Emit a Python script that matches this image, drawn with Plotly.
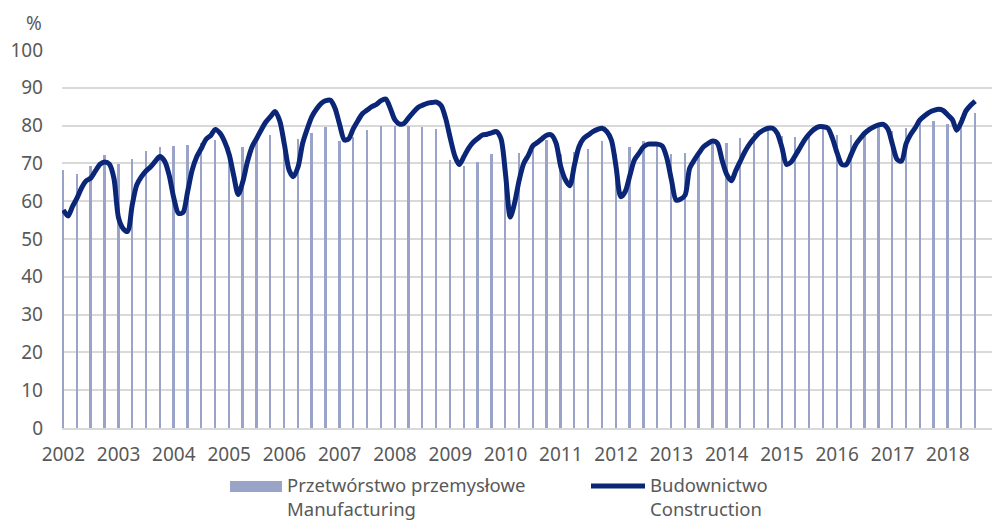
import pandas as pd
import plotly.graph_objects as go

# ---- data ----
construction = [
    57.7, 56.1, 58.5, 60.8, 63.5, 65.4, 66.1, 68.0, 69.8, 70.4, 69.8, 66.1,   # 2002
    55.5, 52.7, 52.0, 59.0, 64.3, 66.5, 68.0, 69.1, 70.6, 71.8, 70.6, 66.9,   # 2003
    60.8, 56.8, 57.0, 62.5, 68.2, 71.8, 74.0, 76.4, 77.4, 79.0, 78.0, 75.8,   # 2004
    72.3, 66.5, 61.8, 65.2, 70.4, 74.4, 76.6, 78.9, 81.0, 82.4, 83.7, 81.2,   # 2005
    74.9, 68.2, 66.5, 69.1, 75.3, 79.2, 82.4, 84.4, 85.9, 86.6, 86.7, 84.6,   # 2006
    80.2, 76.2, 76.5, 79.2, 81.3, 83.2, 84.1, 85.0, 85.6, 86.6, 87.0, 84.6,   # 2007
    81.5, 80.4, 80.6, 82.1, 83.5, 84.8, 85.4, 85.9, 86.1, 86.2, 85.3, 81.9,   # 2008
    76.6, 71.8, 69.7, 71.8, 74.0, 75.6, 76.6, 77.5, 77.7, 78.1, 78.4, 76.6,   # 2009
    67.0, 55.8, 59.4, 65.6, 70.0, 72.2, 74.7, 75.6, 76.6, 77.5, 77.5, 75.3,   # 2010
    69.1, 65.6, 64.1, 69.6, 74.4, 76.6, 77.5, 78.4, 79.0, 79.3, 78.4, 76.2,   # 2011
    69.1, 61.2, 62.5, 66.8, 70.9, 72.7, 74.4, 75.1, 75.1, 75.1, 74.6, 71.5,   # 2012
    65.6, 60.3, 60.5, 61.6, 68.7, 70.9, 72.7, 74.4, 75.3, 75.9, 75.3, 70.9,   # 2013
    67.1, 65.4, 68.0, 70.6, 73.1, 75.1, 76.6, 78.0, 78.8, 79.3, 79.3, 78.0,   # 2014
    74.2, 69.7, 70.3, 72.2, 74.2, 76.3, 77.8, 79.0, 79.7, 79.7, 79.3, 76.6,   # 2015
    72.7, 69.7, 69.7, 72.2, 74.9, 76.6, 78.0, 79.0, 79.7, 80.2, 80.3, 79.1,   # 2016
    74.9, 71.0, 70.6, 75.3, 77.7, 79.5, 81.5, 82.6, 83.5, 84.0, 84.3, 84.0,   # 2017
    82.8, 81.5, 78.8, 81.0, 83.9, 85.4, 86.5,                                 # 2018
]
manufacturing = [
    68.3, 67.3, 69.4, 72.2,   # 2002
    69.8, 71.2, 73.2, 74.4,   # 2003
    74.5, 74.9, 75.5, 76.2,   # 2004
    74.3, 74.3, 75.8, 77.4,   # 2005
    76.2, 76.5, 78.0, 79.7,   # 2006
    76.0, 77.1, 78.8, 79.9,   # 2007
    80.0, 79.9, 79.7, 79.2,   # 2008
    71.0, 69.2, 70.4, 72.5,   # 2009
    71.8, 72.7, 73.5, 76.2,   # 2010
    72.5, 73.0, 73.7, 75.8,   # 2011
    72.5, 74.4, 75.9, 75.5,   # 2012
    72.6, 72.7, 72.6, 76.2,   # 2013
    75.3, 76.7, 78.1, 79.5,   # 2014
    77.2, 77.1, 78.4, 79.5,   # 2015
    77.5, 77.5, 78.4, 79.7,   # 2016
    78.6, 79.4, 80.4, 81.2,   # 2017
    80.5, 82.3, 83.3,         # 2018
]
months = pd.date_range("2002-01-01", periods=len(construction), freq="MS")
quarters = pd.date_range("2002-01-01", periods=len(manufacturing), freq="QS")

name_manuf = "Przetwórstwo przemysłowe<br>Manufacturing"
name_constr = "Budownictwo<br>Construction"

BAR_COLOR = "#9aa4c9"
LINE_COLOR = "#0b2677"
TEXT_COLOR = "#595959"
FONT = "Noto Sans"

fig = go.Figure()
fig.add_trace(go.Bar(
    x=quarters, y=manufacturing, name=name_manuf,
    marker=dict(color=BAR_COLOR, line=dict(width=0)),
    width=12 * 86400000, showlegend=False,
))
fig.add_trace(go.Scatter(
    x=months, y=construction, name=name_constr, mode="lines",
    line=dict(color=LINE_COLOR, width=5, shape="spline", smoothing=0.8),
    showlegend=False,
))

W, H = 994, 524
L, R, T, B = 62, 2, 50, 96
pw, ph = W - L - R, H - T - B

def px(x):
    return (x - L) / pw

def py(y):
    return (H - B - y) / ph

# manual legend (swatches + labels)
fig.add_shape(type="rect", xref="paper", yref="paper",
              x0=px(230), x1=px(282), y0=py(481), y1=py(492),
              fillcolor=BAR_COLOR, line=dict(width=0))
fig.add_shape(type="line", xref="paper", yref="paper",
              x0=px(591), x1=px(645), y0=py(486), y1=py(486),
              line=dict(color=LINE_COLOR, width=5))
leg_font = dict(size=18.5, color=TEXT_COLOR, family=FONT)
fig.add_annotation(xref="paper", yref="paper", x=px(286), y=py(471),
                   xanchor="left", yanchor="top", align="left", showarrow=False,
                   text=name_manuf, font=leg_font, borderpad=0)
fig.add_annotation(xref="paper", yref="paper", x=px(649), y=py(471),
                   xanchor="left", yanchor="top", align="left", showarrow=False,
                   text=name_constr, font=leg_font, borderpad=0)
fig.add_annotation(xref="paper", yref="paper", x=px(44), y=py(23),
                   xanchor="right", yanchor="middle", showarrow=False,
                   text="%", font=dict(size=19, color=TEXT_COLOR, family=FONT))

fig.update_layout(
    width=W, height=H,
    margin=dict(l=L, r=R, t=T, b=B),
    paper_bgcolor="white", plot_bgcolor="white",
    font=dict(family=FONT, size=19, color=TEXT_COLOR),
    bargap=0,
    showlegend=False,
)
fig.update_xaxes(
    type="date", range=["2001-12-23", "2018-10-20"],
    tickformat="%Y", dtick="M12", tick0="2002-01-01",
    showgrid=False, zeroline=False,
    showline=True, linecolor="#d9d9d9", linewidth=1.5,
    ticks="", ticklabelstandoff=8,
)
fig.update_yaxes(
    range=[0, 100], dtick=10, tick0=0,
    showgrid=True, gridcolor="#d9d9d9", gridwidth=1.5,
    zeroline=False, showline=False,
    ticks="", ticklabelstandoff=18,
)

fig.write_html("out.html", config={"displayModeBar": False},
               post_script="document.body.style.margin='0';")
